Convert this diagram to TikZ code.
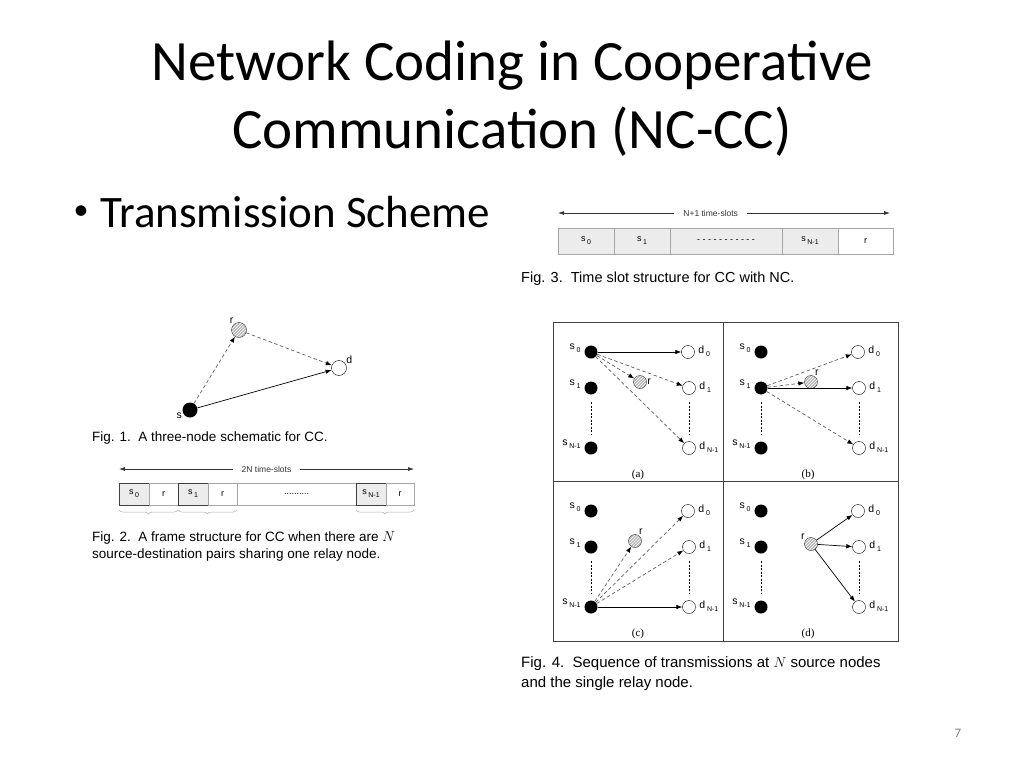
\documentclass[tikz,border=0pt]{standalone}
\usepackage{fontspec}
\setmainfont{Carlito}
\newfontfamily\figfont{Liberation Sans}
\newfontfamily\figserif{Liberation Serif}
\usetikzlibrary{positioning,patterns,arrows.meta,decorations.pathreplacing}

\newcommand{\lowidx}[1]{\,\raisebox{-0.6ex}{\fontsize{7}{7}\selectfont #1}}

\tikzset{
  src/.style={circle, fill=black, inner sep=0pt, minimum size=13pt},
  dst/.style={circle, draw=black, fill=white, inner sep=0pt, minimum size=13pt},
  rly/.style={circle, draw=black!80, preaction={fill=gray!55}, pattern=north east lines,
    pattern color=white, inner sep=0pt, minimum size=13pt},
  lbl/.style={font=\figfont\fontsize{10.5}{10.5}\selectfont, inner sep=0.5pt},
  slbl/.style={lbl, anchor=east, label distance=3pt, yshift=4pt},
  dlbl/.style={lbl, anchor=west, label distance=3pt, yshift=1pt},
  tx/.style={-{Latex[length=6pt,width=4.5pt,color=black]}, line width=0.7pt},
  txd/.style={tx, draw=gray!75!black, dash pattern=on 3.5pt off 2.5pt},
  vdots/.style={dash pattern=on 2pt off 1.5pt, shorten >=7.5pt, shorten <=7.5pt},
  slot/.style={draw=gray!70, outer sep=0pt, inner sep=0pt, font=\figfont\fontsize{9}{9}\selectfont},
  sslot/.style={slot, fill=gray!15, draw=black!75, line width=0.8pt},
  span/.style={{Latex[length=6pt,width=4pt]}-{Latex[length=6pt,width=4pt]}, line width=0.6pt, gray!40!black},
  brc/.style={decorate, decoration={brace, mirror, amplitude=4pt}, gray!60, line width=0.5pt},
  figcap/.style={font=\figfont\fontsize{13.5}{17}\selectfont, align=left, inner sep=0pt},
  plbl/.style={font=\figserif\fontsize{11}{11}\selectfont}
}

\begin{document}
\begin{tikzpicture}[x=1pt, y=-1pt]
  \useasboundingbox[fill=white] (0,0) rectangle (1024,768);

  % slide text
  \node[font=\fontsize{57}{57}\selectfont, anchor=base] (ttl) at (512,80) {Network Coding in Cooperative};
  \node[font=\fontsize{57}{57}\selectfont, anchor=base] (ttl2) at (512,148) {Communication (NC-CC)};
  \node[font=\fontsize{30}{30}\selectfont] (bul) at (81,213) {\textbullet};
  \node[font=\fontsize{45}{45}\selectfont, anchor=base west, inner xsep=0pt] (sch) at (100,227) {Transmission Scheme};
  \node[font=\fontsize{13}{13}\selectfont, text=gray] (pg) at (958,733) {7};

  % Fig. 1
  \node[rly, minimum size=15pt, label={[lbl]130:r}] (f1r) at (239,330) {};
  \node[dst, minimum size=15pt, label={[lbl]30:d}] (f1d) at (339,368) {};
  \node[src, minimum size=15pt, label={[lbl]195:s}] (f1s) at (190,410) {};
  \draw[txd] (f1s) -- (f1r);
  \draw[txd] (f1r) -- (f1d);
  \draw[tx] (f1s) -- (f1d);
  \node[figcap, anchor=west] (cap1) at (92,438) {Fig. 1.\ \ A three-node schematic for CC.};

  % Fig. 2
  \node[sslot, minimum width=30pt, minimum height=22pt, anchor=north west] (f2a) at (119,483) {s\lowidx{0}};
  \node[slot, minimum width=29pt, minimum height=22pt, right=0pt of f2a] (f2b) {r};
  \node[sslot, minimum width=30pt, minimum height=22pt, right=0pt of f2b] (f2c) {s\lowidx{1}};
  \node[slot, minimum width=29pt, minimum height=22pt, right=0pt of f2c] (f2d) {r};
  \node[slot, minimum width=119pt, minimum height=22pt, right=0pt of f2d] (f2e) {..........};
  \node[sslot, minimum width=30pt, minimum height=22pt, right=0pt of f2e] (f2f) {s\lowidx{N-1}};
  \node[slot, minimum width=28pt, minimum height=22pt, right=0pt of f2f] (f2g) {r};
  \draw[span] ([yshift=14pt]f2a.north west) -- node[midway, fill=white, inner xsep=9pt,
    font=\figfont\fontsize{8.5}{8.5}\selectfont] (f2t) {2N time-slots} ([yshift=14pt]f2g.north east);
  \draw[brc] ([yshift=-5pt]f2a.south west) -- ([yshift=-5pt]f2b.south east);
  \draw[brc] ([yshift=-5pt]f2c.south west) -- ([yshift=-5pt]f2d.south east);
  \draw[brc] ([yshift=-5pt]f2f.south west) -- ([yshift=-5pt]f2g.south east);
  \node[figcap, anchor=north west] (cap2) at (92,531)
    {Fig. 2.\ \ A frame structure for CC when there are $N$\\source-destination pairs sharing one relay node.};

  % Fig. 3
  \node[slot, fill=gray!15, minimum width=56pt, minimum height=26pt, anchor=north west] (f3a) at (558,228) {s\lowidx{0}};
  \node[slot, fill=gray!15, minimum width=56pt, minimum height=26pt, right=0pt of f3a] (f3b) {s\lowidx{1}};
  \node[slot, fill=gray!15, minimum width=112pt, minimum height=26pt, right=0pt of f3b] (f3c) {\raisebox{-0.4ex}{- - - - - - - - - - -}};
  \node[slot, fill=gray!15, minimum width=56pt, minimum height=26pt, right=0pt of f3c] (f3d) {s\lowidx{N-1}};
  \node[slot, minimum width=55pt, minimum height=26pt, right=0pt of f3d] (f3e) {r};
  \draw[span] ([yshift=15pt]f3a.north west) -- node[pos=0.46, fill=white, inner xsep=9pt,
    font=\figfont\fontsize{8.5}{8.5}\selectfont] (f3t) {N+1 time-slots} ([yshift=15pt,xshift=-3pt]f3e.north east);
  \node[figcap, anchor=west, font=\figfont\fontsize{14.5}{18}\selectfont] (cap3) at (521,279)
    {Fig. 3.\ \ Time slot structure for CC with NC.};

  % Fig. 4
  \draw[gray!50!black, line width=0.9pt] (553,322) rectangle (898,641);
  \draw[gray!50!black, line width=0.9pt] (723,322) -- (723,641);
  \draw[gray!50!black, line width=0.9pt] (553,481) -- (898,481);
  \foreach \p/\q/\x/\y/\rx/\ry/\ra in {pa/a/553/322/87/60/east, pb/b/723/322/88/60/60,
                                      pc/c/553/481/82/60/60, pd/d/723/481/88/63/150}{
    \begin{scope}[shift={(\x,\y)}]
      \node[src, label={[slbl]west:s\lowidx{0}}] (\p-s0) at (38,30) {};
      \node[src, label={[slbl]west:s\lowidx{1}}] (\p-s1) at (38,66) {};
      \node[src, label={[slbl]west:s\lowidx{N-1}}] (\p-sN) at (38,126) {};
      \node[dst, label={[dlbl]east:d\lowidx{0}}] (\p-d0) at (135,30) {};
      \node[dst, label={[dlbl]east:d\lowidx{1}}] (\p-d1) at (136,66) {};
      \node[dst, label={[dlbl]east:d\lowidx{N-1}}] (\p-dN) at (136,126) {};
      \node[rly, label={[lbl]\ra:r}] (\p-r) at (\rx,\ry) {};
      \node[plbl] (\p-cap) at (85,153) {(\q)};
      \draw[vdots] (\p-s1) -- (\p-sN);
      \draw[vdots] (\p-d1) -- (\p-dN);
    \end{scope}
  }
  % (a)
  \draw[tx] (pa-s0) -- (pa-d0);
  \foreach \t in {r,d1,dN} \draw[txd] (pa-s0) -- (pa-\t);
  % (b)
  \draw[tx] (pb-s1) -- (pb-d1);
  \foreach \t in {r,d0,dN} \draw[txd] (pb-s1) -- (pb-\t);
  % (c)
  \draw[tx] (pc-sN) -- (pc-dN);
  \foreach \t in {r,d0,d1} \draw[txd] (pc-sN) -- (pc-\t);
  % (d)
  \foreach \t in {d0,d1,dN} \draw[tx] (pd-r) -- (pd-\t);
  \node[figcap, anchor=north west, font=\figfont\fontsize{15}{20}\selectfont] (cap4) at (521,656)
    {Fig. 4.\ \ Sequence of transmissions at $N$ source nodes\\and the single relay node.};
\end{tikzpicture}
\end{document}
